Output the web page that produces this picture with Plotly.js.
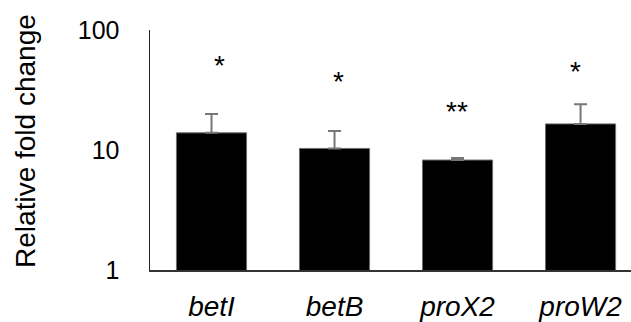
<!DOCTYPE html>
<html>
<head>
<meta charset="utf-8">
<script src="https://cdn.plot.ly/plotly-3.0.1.min.js"></script>
<style>html,body{margin:0;padding:0;background:#fff;}#chart{width:631px;height:322px;}</style>
</head>
<body>
<div id="chart"></div>
<script>
var genes = ["betI", "betB", "proX2", "proW2"];
var foldChange = [13.9, 10.3, 8.25, 16.5];
var errorUp = [6.1, 4.1, 0.33, 7.5];
var significance = ["*", "*", "**", "*"];
var starLevels = [54, 40, 22.4, 48];
var starShift = [8, 4, -1, -5];

var tickVals = [1, 10, 100];
var tickText = ["1", "10", "100"];

var trace = {
  type: "bar",
  x: genes,
  y: foldChange,
  marker: {color: "#000000", line: {color: "#6e6e6e", width: 1}},
  error_y: {type: "data", symmetric: false, array: errorUp, arrayminus: foldChange.map(function(){return 0;}),
            color: "#777777", thickness: 2, width: 6.5},
  hoverinfo: "none"
};

var annotations = genes.map(function(g, i) {
  return {x: g, y: Math.log10(starLevels[i]), xref: "x", yref: "y", text: significance[i],
          showarrow: false, xshift: starShift[i], yshift: -3.5,
          font: {family: "Liberation Sans, Arial, sans-serif", size: 28, color: "#000"}};
});
annotations.push({
  text: "Relative fold change", xref: "paper", yref: "paper", x: -0.26, y: 0.5375,
  xanchor: "center", yanchor: "middle", textangle: -90, showarrow: false,
  font: {family: "Liberation Sans, Arial, sans-serif", size: 28, color: "#000"}
});

var layout = {
  width: 631, height: 322,
  margin: {l: 150, r: 0, t: 30, b: 52},
  paper_bgcolor: "#fff", plot_bgcolor: "#fff",
  showlegend: false,
  bargap: 0.43,
  font: {family: "Liberation Sans, Arial, sans-serif", color: "#000"},
  xaxis: {
    type: "category", range: [-0.5, 3.41],
    showline: true, linecolor: "#333", linewidth: 1.5,
    ticks: "", showgrid: false, zeroline: false,
    tickfont: {size: 28, style: "italic"},
    ticklabelstandoff: 11
  },
  yaxis: {
    type: "log", range: [0, 2],
    showline: true, linecolor: "#222", linewidth: 1.5,
    ticks: "", showgrid: false, zeroline: false,
    tickvals: tickVals, ticktext: tickText,
    tickfont: {size: 25},
    ticklabelstandoff: 24
  },
  annotations: annotations
};

Plotly.newPlot("chart", [trace], layout, {staticPlot: true, displayModeBar: false});
</script>
</body>
</html>
